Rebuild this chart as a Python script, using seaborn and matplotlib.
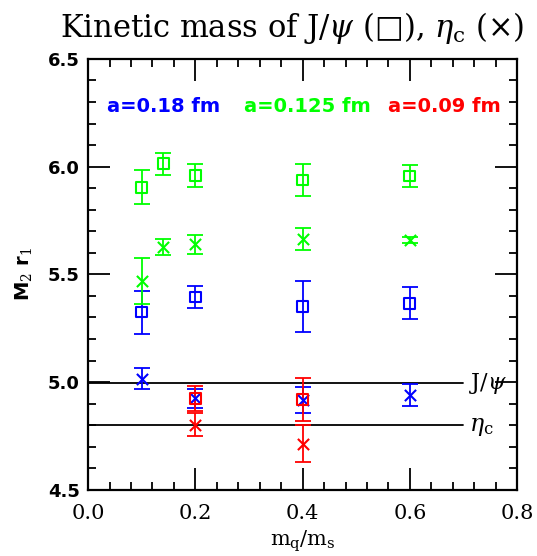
import numpy as np
import pandas as pd
import matplotlib
matplotlib.use("Agg")
import matplotlib.pyplot as plt
import seaborn as sns
from matplotlib.ticker import MultipleLocator

# ---- data ----
blue_x = [0.1, 0.2, 0.4, 0.6]
blue_sq = [5.325, 5.395, 5.350, 5.366]
blue_sq_err = [0.100, 0.053, 0.118, 0.074]
blue_cr = [5.016, 4.925, 4.918, 4.938]
blue_cr_err = [0.050, 0.045, 0.060, 0.051]

green_x = [0.1, 0.14, 0.2, 0.4, 0.6]
green_sq = [5.905, 6.013, 5.958, 5.938, 5.957]
green_sq_err = [0.080, 0.050, 0.053, 0.074, 0.050]
green_cr = [5.469, 5.628, 5.639, 5.664, 5.660]
green_cr_err = [0.108, 0.037, 0.044, 0.053, 0.015]

red_x = [0.2, 0.4]
red_sq = [4.924, 4.921]
red_sq_err = [0.060, 0.100]
red_cr = [4.803, 4.713]
red_cr_err = [0.053, 0.086]

jpsi_level = 4.995
etac_level = 4.803
line_xmax = 0.70

series_names = ["a=0.18 fm", "a=0.125 fm", "a=0.09 fm"]
series_colors = ["#0000ff", "#00ff00", "#ff0000"]

xticks = [0.0, 0.2, 0.4, 0.6, 0.8]
yticks = [4.5, 5.0, 5.5, 6.0, 6.5]

sns.set_style("ticks")
plt.rcParams["font.family"] = ["DejaVu Serif", "DejaVu Sans"]
plt.rcParams["mathtext.fontset"] = "dejavuserif"
plt.rcParams["text.color"] = "black"
plt.rcParams["axes.labelcolor"] = "black"
plt.rcParams["xtick.color"] = "black"
plt.rcParams["ytick.color"] = "black"

fig = plt.figure(figsize=(5.37, 5.56), dpi=100)
ax = fig.add_axes([0.164, 0.119, 0.799, 0.775])

groups = [
    (blue_x, blue_sq, blue_sq_err, blue_cr, blue_cr_err, series_colors[0]),
    (green_x, green_sq, green_sq_err, green_cr, green_cr_err, series_colors[1]),
    (red_x, red_sq, red_sq_err, red_cr, red_cr_err, series_colors[2]),
]
for xs, sq, sqe, cr, cre, col in groups:
    ax.errorbar(xs, sq, yerr=sqe, fmt="none", ecolor=col, elinewidth=1.3,
                capsize=6, capthick=1.3, zorder=3)
    ax.errorbar(xs, cr, yerr=cre, fmt="none", ecolor=col, elinewidth=1.3,
                capsize=6, capthick=1.3, zorder=3)
    df_sq = pd.DataFrame({"x": xs, "y": sq})
    df_cr = pd.DataFrame({"x": xs, "y": cr})
    sns.scatterplot(data=df_sq, x="x", y="y", ax=ax, marker="s", s=60,
                    facecolor="none", edgecolor=col, linewidth=1.5, zorder=4)
    sns.scatterplot(data=df_cr, x="x", y="y", ax=ax, marker="x", s=65,
                    color=col, linewidth=1.5, zorder=4)

ax.plot([0, line_xmax], [jpsi_level, jpsi_level], color="black", lw=1.3, zorder=2)
ax.plot([0, line_xmax], [etac_level, etac_level], color="black", lw=1.3, zorder=2)
ax.text(line_xmax + 0.01, jpsi_level, r"J/$\psi$", fontsize=16, va="center", ha="left")
ax.text(line_xmax + 0.01, etac_level - 0.01, r"$\eta_{\rm c}$", fontsize=17, va="center", ha="left")

ax.set_xlim(0, 0.8)
ax.set_ylim(4.5, 6.5)
ax.set_xticks(xticks)
ax.set_yticks(yticks)
ax.xaxis.set_minor_locator(MultipleLocator(0.04))
ax.yaxis.set_minor_locator(MultipleLocator(0.1))
ax.tick_params(which="both", direction="in", top=True, right=True, width=1.3, color="black")
ax.tick_params(which="major", length=16)
ax.tick_params(which="minor", length=5.5)
ax.tick_params(axis="x", labelsize=15, pad=10)
ax.tick_params(axis="y", labelsize=13, pad=6)
for lab in ax.get_yticklabels():
    lab.set_family("DejaVu Sans")
    lab.set_fontweight("bold")
for sp in ax.spines.values():
    sp.set_linewidth(1.6)
    sp.set_color("black")

ax.set_xlabel(r"m$_{\rm q}$/m$_{\rm s}$", fontsize=15, labelpad=4)
ax.set_ylabel(r"M$_2$ r$_1$", fontsize=14, fontweight="bold", family="DejaVu Sans", labelpad=10)

fig.text(60 / 537, 1 - 28 / 556,
         r"Kinetic mass of J/$\psi$ (□), $\eta_{\rm c}$ ($\times$)",
         fontsize=22, ha="left", va="center")

label_x = [0.035, 0.29, 0.56]
for nm, col, lx in zip(series_names, series_colors, label_x):
    ax.text(lx, 6.28, nm, color=col, fontsize=14, fontweight="bold",
            family="DejaVu Sans", va="center", ha="left")

fig.savefig("out.png", dpi=100)
